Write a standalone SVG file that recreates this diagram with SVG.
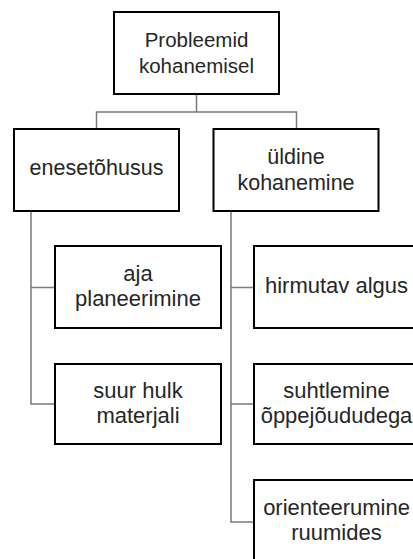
<svg xmlns="http://www.w3.org/2000/svg" width="413" height="559" viewBox="0 0 413 559">
<style>
.box{fill:#fff;stroke:#000;stroke-width:2}
.t{font-family:"Liberation Sans",Arial,sans-serif;fill:#262626;text-anchor:middle}
.r{font-size:20.5px}
.l1{font-size:21.5px}
.l2{font-size:22px}
.c{fill:none;stroke:#7a7a7a;stroke-width:1.5}
</style>
<rect width="413" height="559" fill="#fff"/>
<g id="connectors">
<path class="c" d="M196.5 94V112M96.5 129V112H296.5V129"/>
<path class="c" d="M31 211V404H55M31 287.5H55"/>
<path class="c" d="M231 211V522H254M231 287.5H254M231 404H254"/>
</g>
<g id="root">
<rect class="box" x="114" y="12" width="165" height="82"/>
<text class="t r" x="196.5" y="47">Probleemid</text>
<text class="t r" x="196.5" y="73">kohanemisel</text>
</g>
<g id="enesetohusus">
<rect class="box" x="14" y="129" width="165" height="82"/>
<text class="t l1" x="96.5" y="175">enesetõhusus</text>
</g>
<g id="uldine">
<rect class="box" x="213.5" y="129" width="165" height="82"/>
<text class="t l1" x="296" y="164">üldine</text>
<text class="t l1" x="296" y="190">kohanemine</text>
</g>
<g id="aja">
<rect class="box" x="55" y="246" width="166" height="82"/>
<text class="t l2" x="138" y="281">aja</text>
<text class="t l2" x="138" y="306">planeerimine</text>
</g>
<g id="suur">
<rect class="box" x="55" y="364" width="166" height="80"/>
<text class="t l2" x="138" y="398">suur hulk</text>
<text class="t l2" x="138" y="423">materjali</text>
</g>
<g id="hirmutav">
<rect class="box" x="254" y="246" width="166" height="82"/>
<text class="t l2" x="336.5" y="293">hirmutav algus</text>
</g>
<g id="suhtlemine">
<rect class="box" x="254" y="364" width="166" height="80"/>
<text class="t l2" x="336.5" y="398">suhtlemine</text>
<text class="t l2" x="336.5" y="423">õppejõududega</text>
</g>
<g id="orienteerumine">
<rect class="box" x="254" y="480" width="166" height="82"/>
<text class="t l2" x="336.5" y="515">orienteerumine</text>
<text class="t l2" x="336.5" y="540">ruumides</text>
</g>
</svg>
